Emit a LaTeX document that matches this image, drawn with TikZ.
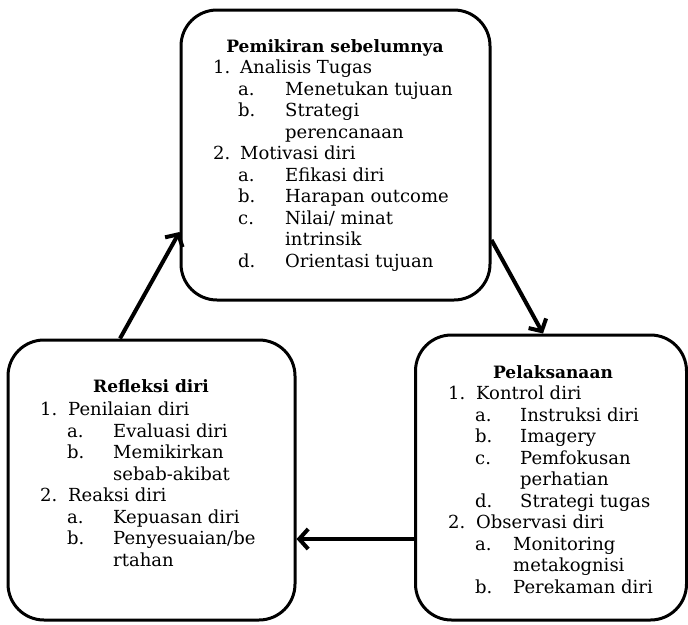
\documentclass[tikz,border=0pt]{standalone}
\usepackage{fontspec}
\setmainfont{DejaVu Serif}
\usetikzlibrary{arrows.meta}
% numbered item, sub item, continuation
\newcommand\NI[2]{\makebox[\nw][l]{#1}#2}
\newcommand\SI[2]{\hspace*{\si}\makebox[\sw][l]{#1}#2}
\newcommand\SC[1]{\hspace*{\si}\hspace*{\sw}#1}
\tikzset{
  box/.style={draw, line width=3pt, rounded corners=36pt, inner sep=0pt},
  ttl/.style={font=\fontsize{17}{21.5}\selectfont\bfseries, anchor=base, inner sep=0pt},
  lst/.style={font=\fontsize{18}{21.5}\selectfont, align=left, anchor=north west, inner sep=0pt},
  arr/.style={line width=4pt, -{Straight Barb[length=9pt,width=20pt]}}
}
\begin{document}
\begin{tikzpicture}[x=1pt,y=-1pt]
\useasboundingbox (0,0) rectangle (688,624);
% boxes
\node[box, minimum width=309pt, minimum height=290pt] (T) at (335.5,155) {};
\node[box, minimum width=271pt, minimum height=285pt] (R) at (551,477.5) {};
\node[box, minimum width=287pt, minimum height=280pt] (L) at (151.5,480) {};
% top box text
\node[ttl] (Tt) at (335,52) {Pemikiran sebelumnya};
\def\nw{27pt}\def\si{25pt}\def\sw{47pt}
\node[lst] (Tl) at (213,60) {\NI{1.}{Analisis Tugas}\\
\SI{a.}{Menetukan tujuan}\\
\SI{b.}{Strategi}\\
\SC{perencanaan}\\
\NI{2.}{Motivasi diri}\\
\SI{a.}{Efikasi diri}\\
\SI{b.}{Harapan outcome}\\
\SI{c.}{Nilai/ minat}\\
\SC{intrinsik}\\
\SI{d.}{Orientasi tujuan}};
% right box text
\node[ttl] (Rt) at (553,378) {Pelaksanaan};
\def\nw{28pt}\def\si{27pt}\def\sw{45pt}
\node[lst] (Rl) at (448,386) {\NI{1.}{Kontrol diri}\\
\SI{a.}{Instruksi diri}\\
\SI{b.}{Imagery}\\
\SI{c.}{Pemfokusan}\\
\SC{perhatian}\\
\SI{d.}{Strategi tugas}\\
\NI{2.}{Observasi diri}\\
\hspace*{\si}\makebox[38pt][l]{a.}Monitoring\\
\hspace*{\si}\hspace*{38pt}metakognisi\\
\hspace*{\si}\makebox[38pt][l]{b.}Perekaman diri};
% left box text
\node[ttl] (Lt) at (151,392) {Refleksi diri};
\def\nw{28pt}\def\si{27pt}\def\sw{46pt}
\node[lst] (Ll) at (40,402) {\NI{1.}{Penilaian diri}\\
\SI{a.}{Evaluasi diri}\\
\SI{b.}{Memikirkan}\\
\SC{sebab-akibat}\\
\NI{2.}{Reaksi diri}\\
\SI{a.}{Kepuasan diri}\\
\SI{b.}{Penyesuaian/be}\\
\SC{rtahan}};
% arrows
\draw[arr] ([xshift=-31.5pt]L.north) -- ([yshift=-77pt]T.west);
\draw[arr] ([yshift=-85pt]T.east) -- ([xshift=-8pt]R.north);
\draw[arr] ([yshift=-61.5pt]R.west) -- ([yshift=-59pt]L.east);
\end{tikzpicture}
\end{document}
